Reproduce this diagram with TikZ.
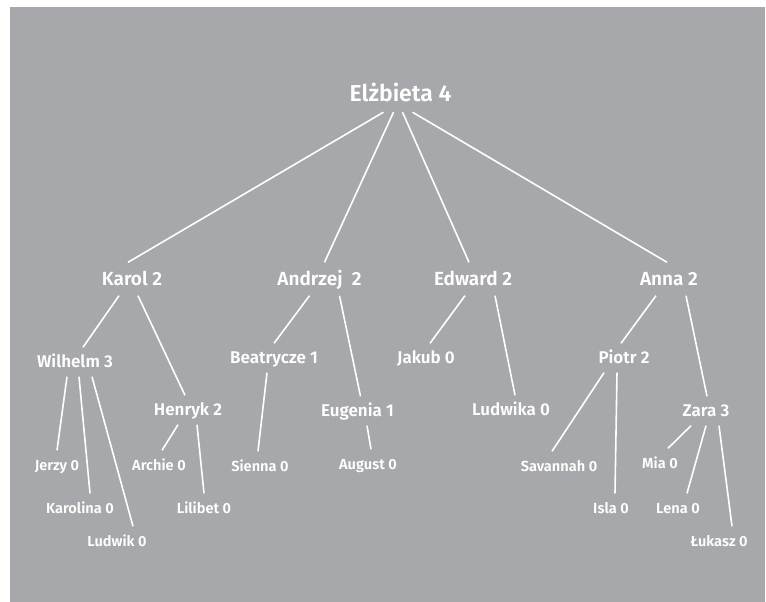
\documentclass[tikz,border=0pt]{standalone}
\usepackage{fontspec}
\setmainfont{Fira Sans}[UprightFont={* SemiBold}]
\usetikzlibrary{positioning}
\definecolor{panelgrey}{HTML}{A7A8AB}
\tikzset{
  person/.style={text=white, inner sep=0pt, text depth=0pt},
  rootname/.style={person, font=\fontsize{23}{26}\selectfont, text height=16pt, minimum height=38pt},
  childname/.style={person, font=\fontsize{19}{22}\selectfont, text height=13pt, minimum height=33pt},
  grandname/.style={person, font=\fontsize{17}{20}\selectfont, text height=11.5pt, minimum height=29pt},
  greatname/.style={person, font=\fontsize{14.6}{17}\selectfont, text height=10pt, minimum height=29pt},
  link/.style={draw=white, line width=1.6pt},
}
\begin{document}
\begin{tikzpicture}[node distance=186pt and 268.5pt, on grid]
  \useasboundingbox (0,0) rectangle (766pt,-602pt);
  \fill[panelgrey] (10pt,-7pt) rectangle (765pt,-602pt);

  \node[rootname] (elz) at (400.5pt,-93pt) {Elżbieta 4};
  \node[childname, below left=of elz] (karol) {Karol 2};
  \node[childname, below left=186pt and 81pt of elz] (andrzej) {Andrzej~ 2};
  \node[childname, below right=186pt and 72.5pt of elz] (edward) {Edward 2};
  \node[childname, below right=of elz] (anna) {Anna 2};

  \node[grandname, below left=83pt and 57pt of karol] (wilhelm) {Wilhelm 3};
  \node[grandname, below right=131pt and 56pt of karol] (henryk) {Henryk 2};
  \node[grandname, below left=79pt and 45.5pt of andrzej] (beatrycze) {Beatrycze 1};
  \node[grandname, below right=132pt and 38pt of andrzej] (eugenia) {Eugenia 1};
  \node[grandname, below left=79pt and 47pt of edward] (jakub) {Jakub 0};
  \node[grandname, below right=131pt and 38pt of edward] (ludwika) {Ludwika 0};
  \node[grandname, below left=79pt and 45pt of anna] (piotr) {Piotr 2};
  \node[grandname, below right=132pt and 37pt of anna] (zara) {Zara 3};

  \node[greatname, below left=103pt and 18pt of wilhelm] (jerzy) {Jerzy 0};
  \node[greatname, below right=146pt and 5pt of wilhelm] (karolina) {Karolina 0};
  \node[greatname, below right=179pt and 42pt of wilhelm] (ludwik) {Ludwik 0};
  \node[greatname, below left=55pt and 29pt of henryk] (archie) {Archie 0};
  \node[greatname, below right=98pt and 16pt of henryk] (lilibet) {Lilibet 0};
  \node[greatname, below left=108pt and 14pt of beatrycze] (sienna) {Sienna 0};
  \node[greatname, below right=53pt and 10.5pt of eugenia] (august) {August 0};
  \node[greatname, below left=108pt and 65pt of piotr] (savannah) {Savannah 0};
  \node[greatname, below left=150pt and 13pt of piotr] (isla) {Isla 0};
  \node[greatname, below left=52pt and 46pt of zara] (mia) {Mia 0};
  \node[greatname, below left=97pt and 28pt of zara] (lena) {Lena 0};
  \node[greatname, below right=130pt and 13pt of zara] (lukasz) {Łukasz 0};

  \draw[link] ([xshift=-17pt]elz.south) -- ([xshift=-4pt]karol.north);
  \draw[link] ([xshift=-7pt]elz.south) -- ([xshift=5pt]andrzej.north);
  \draw[link] ([xshift=2pt]elz.south) -- ([xshift=-4pt]edward.north);
  \draw[link] ([xshift=12pt]elz.south) -- ([xshift=-2pt]anna.north);

  \draw[link] ([xshift=-13pt]karol.south) -- ([xshift=8pt]wilhelm.north);
  \draw[link] ([xshift=6pt]karol.south) -- ([xshift=-3pt]henryk.north);
  \draw[link] ([xshift=-10pt]andrzej.south) -- (beatrycze.north);
  \draw[link] ([xshift=20pt]andrzej.south) -- ([xshift=3pt]eugenia.north);
  \draw[link] ([xshift=-8pt]edward.south) -- ([xshift=4pt]jakub.north);
  \draw[link] ([xshift=22pt]edward.south) -- ([xshift=4pt]ludwika.north);
  \draw[link] ([xshift=-13pt]anna.south) -- ([xshift=-3pt]piotr.north);
  \draw[link] ([xshift=17pt]anna.south) -- ([xshift=1pt]zara.north);

  \draw[link] ([xshift=-8pt]wilhelm.south) -- (jerzy.north);
  \draw[link] ([xshift=4pt]wilhelm.south) -- ([xshift=10pt]karolina.north);
  \draw[link] ([xshift=17pt]wilhelm.south) -- ([xshift=16pt]ludwik.north);
  \draw[link] ([xshift=-10pt]henryk.south) -- ([xshift=3pt]archie.north);
  \draw[link] ([xshift=9pt]henryk.south) -- (lilibet.north);
  \draw[link] ([xshift=-7pt]beatrycze.south) -- ([xshift=-2pt]sienna.north);
  \draw[link] ([xshift=9.5pt]eugenia.south) -- ([xshift=3pt]august.north);
  \draw[link] ([xshift=-20pt]piotr.south) -- ([xshift=-7pt]savannah.north);
  \draw[link] ([xshift=-7pt]piotr.south) -- ([xshift=4pt]isla.north);
  \draw[link] ([xshift=-15pt]zara.south) -- ([xshift=8pt]mia.north);
  \draw[link] (zara.south) -- ([xshift=9pt]lena.north);
  \draw[link] ([xshift=13pt]zara.south) -- ([xshift=13pt]lukasz.north);
\end{tikzpicture}
\end{document}
